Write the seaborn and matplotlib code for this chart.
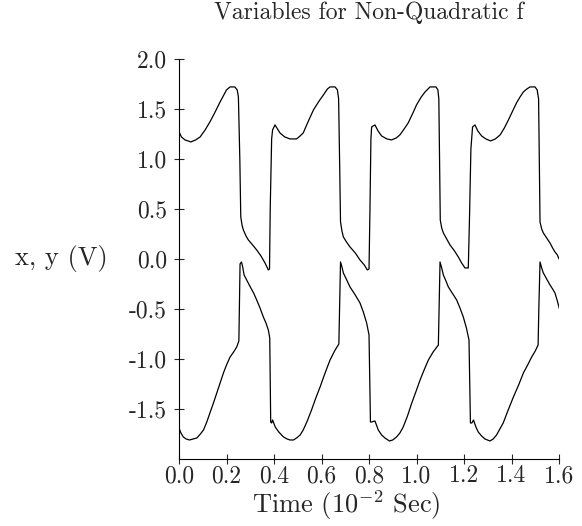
import pandas as pd
import seaborn as sns
import matplotlib.pyplot as plt

# x(t): upper trace
time_x = [0.000, 0.010, 0.025, 0.050, 0.070, 0.089, 0.110, 0.130, 0.150, 0.173,
          0.200, 0.215, 0.235, 0.245, 0.250, 0.256, 0.260, 0.266, 0.271, 0.282,
          0.292, 0.310, 0.327, 0.345, 0.362, 0.376, 0.381, 0.384, 0.390, 0.394,
          0.404, 0.412, 0.425, 0.445, 0.467, 0.495, 0.510, 0.523, 0.545, 0.566,
          0.590, 0.608, 0.625, 0.636, 0.657, 0.667, 0.672, 0.676, 0.680, 0.686,
          0.692, 0.705, 0.720, 0.742, 0.762, 0.780, 0.793, 0.800, 0.804, 0.808,
          0.811, 0.825, 0.838, 0.853, 0.875, 0.895, 0.915, 0.930, 0.948, 0.965,
          0.985, 1.000, 1.020, 1.036, 1.057, 1.082, 1.090, 1.094, 1.097, 1.100,
          1.106, 1.113, 1.127, 1.141, 1.160, 1.176, 1.190, 1.204, 1.218, 1.223,
          1.229, 1.236, 1.246, 1.258, 1.274, 1.292, 1.312, 1.332, 1.352, 1.370,
          1.387, 1.405, 1.421, 1.436, 1.450, 1.465, 1.478, 1.499, 1.508, 1.514,
          1.517, 1.520, 1.527, 1.534, 1.548, 1.562, 1.573, 1.583, 1.593, 1.600]
volts_x = [1.27, 1.22, 1.19, 1.17, 1.19, 1.22, 1.29, 1.37, 1.46, 1.57,
           1.69, 1.72, 1.72, 1.69, 1.62, 1.00, 0.42, 0.33, 0.29, 0.23,
           0.19, 0.14, 0.09, 0.03, -0.04, -0.11, -0.10, 0.50, 1.20, 1.29,
           1.34, 1.31, 1.26, 1.22, 1.20, 1.20, 1.23, 1.26, 1.38, 1.49,
           1.58, 1.64, 1.70, 1.72, 1.72, 1.69, 1.60, 1.00, 0.37, 0.28,
           0.22, 0.17, 0.12, 0.06, -0.01, -0.06, -0.11, -0.10, 0.50, 1.20,
           1.32, 1.34, 1.28, 1.23, 1.20, 1.19, 1.21, 1.24, 1.30, 1.36,
           1.46, 1.54, 1.62, 1.67, 1.72, 1.72, 1.69, 1.60, 1.00, 0.39,
           0.31, 0.26, 0.20, 0.14, 0.08, 0.02, -0.04, -0.09, -0.09, 0.40,
           1.10, 1.32, 1.34, 1.28, 1.23, 1.20, 1.18, 1.20, 1.24, 1.31,
           1.39, 1.48, 1.56, 1.62, 1.67, 1.70, 1.72, 1.72, 1.69, 1.60,
           1.00, 0.37, 0.30, 0.26, 0.21, 0.16, 0.11, 0.07, 0.04, 0.00]

# y(t): lower trace
time_y = [0.000, 0.008, 0.018, 0.030, 0.044, 0.060, 0.075, 0.090, 0.103, 0.117,
          0.130, 0.145, 0.159, 0.173, 0.187, 0.200, 0.215, 0.230, 0.243, 0.252,
          0.254, 0.257, 0.263, 0.268, 0.274, 0.287, 0.300, 0.314, 0.327, 0.341,
          0.355, 0.366, 0.376, 0.382, 0.384, 0.386, 0.390, 0.394, 0.405, 0.420,
          0.440, 0.455, 0.467, 0.482, 0.495, 0.510, 0.523, 0.540, 0.558, 0.576,
          0.594, 0.615, 0.636, 0.655, 0.673, 0.676, 0.680, 0.686, 0.692, 0.706,
          0.720, 0.742, 0.762, 0.776, 0.790, 0.800, 0.803, 0.806, 0.811, 0.825,
          0.839, 0.853, 0.867, 0.886, 0.900, 0.916, 0.930, 0.944, 0.962, 0.980,
          0.997, 1.015, 1.032, 1.050, 1.070, 1.092, 1.095, 1.099, 1.106, 1.113,
          1.124, 1.134, 1.150, 1.169, 1.183, 1.197, 1.210, 1.221, 1.224, 1.227,
          1.233, 1.240, 1.250, 1.260, 1.274, 1.288, 1.309, 1.323, 1.337, 1.351,
          1.365, 1.386, 1.408, 1.430, 1.450, 1.468, 1.485, 1.500, 1.512, 1.515,
          1.520, 1.527, 1.534, 1.548, 1.562, 1.573, 1.583, 1.593, 1.602]
volts_y = [-1.69, -1.74, -1.78, -1.80, -1.81, -1.80, -1.79, -1.75, -1.71, -1.63,
           -1.54, -1.44, -1.34, -1.24, -1.14, -1.06, -0.98, -0.93, -0.88, -0.82,
           -0.50, -0.05, -0.03, -0.08, -0.16, -0.22, -0.28, -0.34, -0.41, -0.49,
           -0.58, -0.64, -0.71, -0.79, -1.20, -1.63, -1.64, -1.61, -1.68, -1.73,
           -1.78, -1.80, -1.81, -1.81, -1.79, -1.76, -1.71, -1.62, -1.51, -1.39,
           -1.28, -1.14, -1.01, -0.92, -0.85, -0.50, -0.03, -0.08, -0.14, -0.21,
           -0.28, -0.36, -0.44, -0.53, -0.64, -0.76, -1.20, -1.63, -1.63, -1.62,
           -1.71, -1.76, -1.79, -1.82, -1.81, -1.78, -1.74, -1.68, -1.57, -1.44,
           -1.33, -1.21, -1.11, -1.01, -0.93, -0.86, -0.50, -0.03, -0.09, -0.16,
           -0.22, -0.28, -0.34, -0.41, -0.49, -0.58, -0.69, -0.81, -1.20, -1.64,
           -1.64, -1.61, -1.68, -1.73, -1.77, -1.80, -1.82, -1.80, -1.76, -1.70,
           -1.64, -1.51, -1.38, -1.26, -1.14, -1.06, -0.98, -0.92, -0.86, -0.50,
           -0.03, -0.09, -0.14, -0.20, -0.26, -0.30, -0.34, -0.42, -0.50]

xticks = [0.0, 0.2, 0.4, 0.6, 0.8, 1.0, 1.2, 1.4, 1.6]
xticklabels = ['0.0', '0.2', '0.4', '0.6', '0.8', '1.0', '1.2', '1.4', '1.6']
yticks = [-1.5, -1.0, -0.5, 0.0, 0.5, 1.0, 1.5, 2.0]
yticklabels = ['-1.5', '-1.0', '-0.5', '0.0', '0.5', '1.0', '1.5', '2.0']

sns.set_style('ticks')
plt.rcParams['font.family'] = 'serif'
plt.rcParams['font.serif'] = ['cmr10', 'DejaVu Serif']
plt.rcParams['mathtext.fontset'] = 'cm'
plt.rcParams['axes.unicode_minus'] = False

df_x = pd.DataFrame({'t': time_x, 'v': volts_x})
df_y = pd.DataFrame({'t': time_y, 'v': volts_y})

fig = plt.figure(figsize=(5.82, 5.26), dpi=100)
ax = fig.add_axes([0.3076, 0.1274, 0.6529, 0.7606])

sns.lineplot(data=df_x, x='t', y='v', ax=ax, color='black', linewidth=0.9,
             sort=False, estimator=None)
sns.lineplot(data=df_y, x='t', y='v', ax=ax, color='black', linewidth=0.9,
             sort=False, estimator=None)

ax.set_xlim(0, 1.6)
ax.set_ylim(-2.0, 2.0)
ax.set_xticks(xticks)
ax.set_xticklabels(xticklabels)
ax.set_yticks(yticks)
ax.set_yticklabels(yticklabels)
ax.tick_params(axis='x', direction='inout', length=7, width=0.8, pad=1, labelsize=17)
ax.tick_params(axis='y', direction='inout', length=7, width=0.8, pad=5, labelsize=17)

sns.despine(ax=ax)
for s in ['left', 'bottom']:
    ax.spines[s].set_linewidth(0.8)
    ax.spines[s].set_color('black')

ax.set_title('Variables for Non-Quadratic f', fontsize=17, pad=29)
ax.set_xlabel(r'Time ($10^{-2}$ Sec)', fontsize=19, va='center')
ax.xaxis.set_label_coords(0.44, -0.115)
ax.set_ylabel('x, y (V)', fontsize=19, rotation=0, ha='right', va='center')
ax.yaxis.set_label_coords(-0.187, 0.5)

fig.savefig('out.png', dpi=100)
